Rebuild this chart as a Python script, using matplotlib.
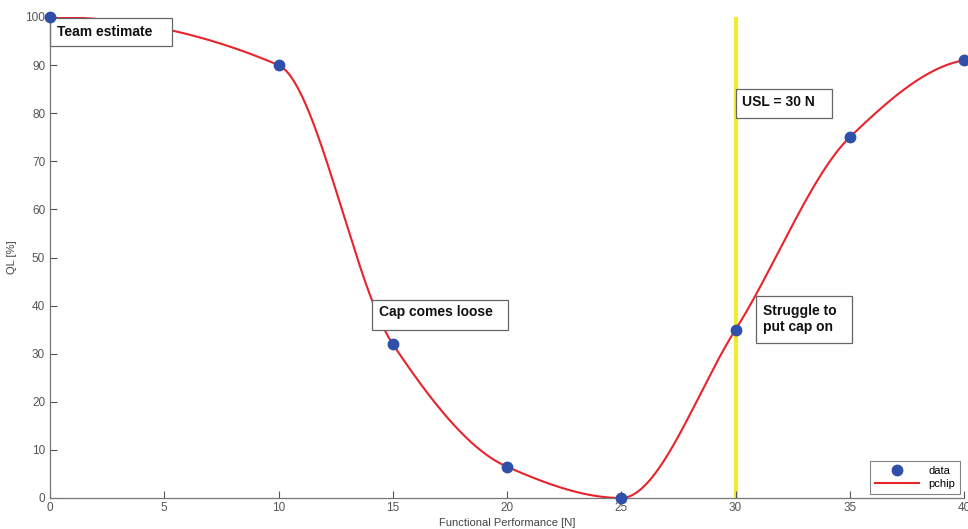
import numpy as np
import matplotlib
matplotlib.use("Agg")
import matplotlib.pyplot as plt
from matplotlib.patches import Rectangle

# Data
x_data = [0, 10, 15, 20, 25, 30, 35, 40]
y_data = [100, 90, 32, 6.5, 0, 35, 75, 91]
usl = 30
x_ticks = [0, 5, 10, 15, 20, 25, 30, 35, 40]
y_ticks = [0, 10, 20, 30, 40, 50, 60, 70, 80, 90, 100]


def pchip_slopes(x, y):
    h = np.diff(x)
    delta = np.diff(y) / h
    n = len(x)
    d = np.zeros(n)
    for k in range(1, n - 1):
        if delta[k - 1] * delta[k] > 0:
            w1 = 2 * h[k] + h[k - 1]
            w2 = h[k] + 2 * h[k - 1]
            d[k] = (w1 + w2) / (w1 / delta[k - 1] + w2 / delta[k])
        else:
            d[k] = 0.0

    def end(h0, h1, del0, del1):
        dd = ((2 * h0 + h1) * del0 - h0 * del1) / (h0 + h1)
        if np.sign(dd) != np.sign(del0):
            dd = 0.0
        elif np.sign(del0) != np.sign(del1) and abs(dd) > abs(3 * del0):
            dd = 3 * del0
        return dd

    d[0] = end(h[0], h[1], delta[0], delta[1])
    d[-1] = end(h[-1], h[-2], delta[-1], delta[-2])
    return d


def pchip_eval(x, y, xq):
    x = np.asarray(x, float)
    y = np.asarray(y, float)
    d = pchip_slopes(x, y)
    idx = np.clip(np.searchsorted(x, xq) - 1, 0, len(x) - 2)
    h = x[idx + 1] - x[idx]
    t = (xq - x[idx]) / h
    h00 = 2 * t**3 - 3 * t**2 + 1
    h10 = t**3 - 2 * t**2 + t
    h01 = -2 * t**3 + 3 * t**2
    h11 = t**3 - t**2
    return h00 * y[idx] + h10 * h * d[idx] + h01 * y[idx + 1] + h11 * h * d[idx + 1]


xq = np.linspace(min(x_data), max(x_data), 801)
yq = pchip_eval(x_data, y_data, xq)

plt.rcParams['font.family'] = ['Liberation Sans', 'DejaVu Sans']

fig = plt.figure(figsize=(9.68, 5.29), dpi=100)
ax = fig.add_axes([50 / 968, 1 - 498 / 529, 914 / 968, 481 / 529])

ax.axvline(usl, ymin=0, ymax=1, color='#f2ea2e', lw=3, zorder=1)
ax.plot(x_data, y_data, 'o', color='#2f4fa8', markersize=7.5, label='data',
        zorder=3, clip_on=False)
ax.plot(xq, yq, '-', color='#e8232b', lw=1.5, label='pchip', zorder=2)

ax.set_xlim(0, 40)
ax.set_ylim(0, 100)
ax.set_xticks(x_ticks)
ax.set_yticks(y_ticks)
ax.tick_params(direction='in', length=5, colors='#555555', labelsize=8.5, width=0.8)
ax.tick_params(axis='x', pad=3)
for s in ['top', 'right']:
    ax.spines[s].set_visible(False)
for s in ['left', 'bottom']:
    ax.spines[s].set_color('#777777')
    ax.spines[s].set_linewidth(0.9)
ax.set_xlabel('Functional Performance [N]', fontsize=8, color='#444444', labelpad=2.5)
ax.set_ylabel('QL [%]', fontsize=8, color='#444444', labelpad=6)

# annotation boxes (data coords): (x0, y0, x1, y1, text_x, text_y, text)
notes = [
    (0.0, 94.0, 5.34, 99.8, 0.31, 96.9, 'Team estimate'),
    (30.02, 79.0, 34.22, 85.0, 30.28, 82.3, 'USL = 30 N'),
    (14.09, 34.9, 20.04, 41.2, 14.4, 38.7, 'Cap comes loose'),
    (30.9, 32.2, 35.1, 42.0, 31.2, 37.2, 'Struggle to\nput cap on'),
]
for x0, y0, x1, y1, tx, ty, txt in notes:
    ax.add_patch(Rectangle((x0, y0), x1 - x0, y1 - y0, facecolor='white',
                           edgecolor='#666666', lw=0.9, zorder=2.5, clip_on=False))
    ax.text(tx, ty, txt, ha='left', va='center', fontsize=10, fontweight='bold',
            color='#111111', zorder=5, linespacing=1.25)

leg = ax.legend(loc='lower right', fontsize=8, frameon=True, fancybox=False,
                edgecolor='#666666', borderaxespad=0.4, handlelength=4.0,
                markerscale=1.0, borderpad=0.4, labelspacing=0.3)
leg.get_frame().set_linewidth(0.8)
leg.set_zorder(6)

fig.savefig('out.png', dpi=100)
